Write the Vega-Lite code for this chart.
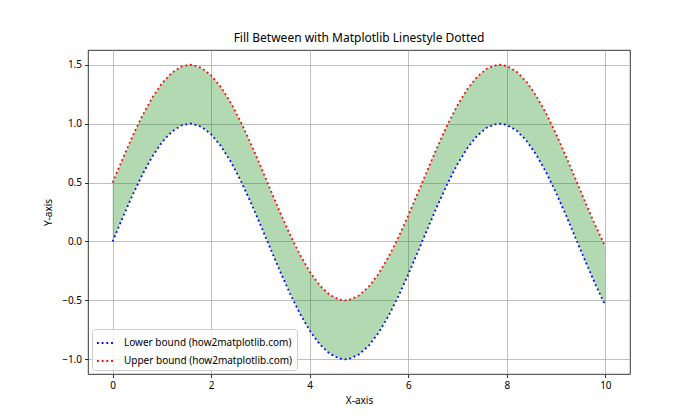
{
  "$schema": "https://vega.github.io/schema/vega-lite/v6.json",
  "width": 542,
  "height": 324,
  "autosize": {"type": "none"},
  "padding": {"left": 88, "top": 50, "right": 70, "bottom": 46},
  "background": "white",
  "config": {
    "font": "Noto Sans",
    "view": {"stroke": "#000000", "strokeWidth": 0.8},
    "axis": {
      "grid": true,
      "gridColor": "#b0b0b0",
      "gridWidth": 0.8,
      "domain": false,
      "tickColor": "#000000",
      "tickWidth": 0.8,
      "tickSize": 3.5,
      "labelPadding": 3,
      "labelFontSize": 10,
      "labelColor": "#000000",
      "titleFontSize": 10,
      "titleFontWeight": "normal",
      "titleColor": "#000000"
    },
    "legend": {
      "orient": "bottom-left",
      "offset": 4,
      "padding": 4,
      "fillColor": "rgba(255,255,255,0.8)",
      "strokeColor": "#cccccc",
      "cornerRadius": 3,
      "symbolType": "stroke",
      "symbolSize": 324,
      "symbolStrokeWidth": 1.8,
      "symbolDash": [1.8, 2.9],
      "labelFontSize": 10,
      "labelColor": "#000000",
      "labelOffset": 8,
      "rowPadding": 3,
      "labelLimit": 300
    }
  },
  "title": {
    "text": "Fill Between with Matplotlib Linestyle Dotted",
    "fontSize": 12,
    "fontWeight": "normal",
    "color": "#000000",
    "anchor": "middle",
    "offset": 5
  },
  "data": {
    "values": [
      {"x": 0.0, "lo": 0.0, "hi": 0.5},
      {"x": 0.2, "lo": 0.1987, "hi": 0.6987},
      {"x": 0.4, "lo": 0.3894, "hi": 0.8894},
      {"x": 0.6, "lo": 0.5646, "hi": 1.0646},
      {"x": 0.8, "lo": 0.7174, "hi": 1.2174},
      {"x": 1.0, "lo": 0.8415, "hi": 1.3415},
      {"x": 1.2, "lo": 0.932, "hi": 1.432},
      {"x": 1.4, "lo": 0.9854, "hi": 1.4854},
      {"x": 1.5708, "lo": 1.0, "hi": 1.5},
      {"x": 1.6, "lo": 0.9996, "hi": 1.4996},
      {"x": 1.8, "lo": 0.9738, "hi": 1.4738},
      {"x": 2.0, "lo": 0.9093, "hi": 1.4093},
      {"x": 2.2, "lo": 0.8085, "hi": 1.3085},
      {"x": 2.4, "lo": 0.6755, "hi": 1.1755},
      {"x": 2.6, "lo": 0.5155, "hi": 1.0155},
      {"x": 2.8, "lo": 0.335, "hi": 0.835},
      {"x": 3.0, "lo": 0.1411, "hi": 0.6411},
      {"x": 3.2, "lo": -0.0584, "hi": 0.4416},
      {"x": 3.4, "lo": -0.2555, "hi": 0.2445},
      {"x": 3.6, "lo": -0.4425, "hi": 0.0575},
      {"x": 3.8, "lo": -0.6119, "hi": -0.1119},
      {"x": 4.0, "lo": -0.7568, "hi": -0.2568},
      {"x": 4.2, "lo": -0.8716, "hi": -0.3716},
      {"x": 4.4, "lo": -0.9516, "hi": -0.4516},
      {"x": 4.6, "lo": -0.9937, "hi": -0.4937},
      {"x": 4.7124, "lo": -1.0, "hi": -0.5},
      {"x": 4.8, "lo": -0.9962, "hi": -0.4962},
      {"x": 5.0, "lo": -0.9589, "hi": -0.4589},
      {"x": 5.2, "lo": -0.8835, "hi": -0.3835},
      {"x": 5.4, "lo": -0.7728, "hi": -0.2728},
      {"x": 5.6, "lo": -0.6313, "hi": -0.1313},
      {"x": 5.8, "lo": -0.4646, "hi": 0.0354},
      {"x": 6.0, "lo": -0.2794, "hi": 0.2206},
      {"x": 6.2, "lo": -0.0831, "hi": 0.4169},
      {"x": 6.4, "lo": 0.1165, "hi": 0.6165},
      {"x": 6.6, "lo": 0.3115, "hi": 0.8115},
      {"x": 6.8, "lo": 0.4941, "hi": 0.9941},
      {"x": 7.0, "lo": 0.657, "hi": 1.157},
      {"x": 7.2, "lo": 0.7937, "hi": 1.2937},
      {"x": 7.4, "lo": 0.8987, "hi": 1.3987},
      {"x": 7.6, "lo": 0.9679, "hi": 1.4679},
      {"x": 7.8, "lo": 0.9985, "hi": 1.4985},
      {"x": 7.854, "lo": 1.0, "hi": 1.5},
      {"x": 8.0, "lo": 0.9894, "hi": 1.4894},
      {"x": 8.2, "lo": 0.9407, "hi": 1.4407},
      {"x": 8.4, "lo": 0.8546, "hi": 1.3546},
      {"x": 8.6, "lo": 0.7344, "hi": 1.2344},
      {"x": 8.8, "lo": 0.5849, "hi": 1.0849},
      {"x": 9.0, "lo": 0.4121, "hi": 0.9121},
      {"x": 9.2, "lo": 0.2229, "hi": 0.7229},
      {"x": 9.4, "lo": 0.0248, "hi": 0.5248},
      {"x": 9.6, "lo": -0.1743, "hi": 0.3257},
      {"x": 9.8, "lo": -0.3665, "hi": 0.1335},
      {"x": 10.0, "lo": -0.544, "hi": -0.044}
    ]
  },
  "encoding": {
    "x": {
      "field": "x",
      "type": "quantitative",
      "scale": {"domain": [-0.5, 10.5], "nice": false, "zero": false},
      "axis": {"values": [0, 2, 4, 6, 8, 10], "title": "X-axis", "titlePadding": 5}
    }
  },
  "layer": [
    {
      "mark": {"type": "area", "color": "green", "opacity": 0.3},
      "encoding": {
        "y": {
          "field": "lo",
          "type": "quantitative",
          "scale": {"domain": [-1.125, 1.625], "nice": false, "zero": false},
          "axis": {"values": [-1, -0.5, 0, 0.5, 1, 1.5], "format": ".1f", "title": "Y-axis", "titlePadding": 8}
        },
        "y2": {"field": "hi"}
      }
    },
    {
      "mark": {"type": "line", "strokeWidth": 1.8, "strokeDash": [1.8, 2.9]},
      "encoding": {
        "y": {"field": "lo", "type": "quantitative"},
        "color": {
          "datum": "Lower bound (how2matplotlib.com)",
          "type": "nominal",
          "scale": {
            "domain": ["Lower bound (how2matplotlib.com)", "Upper bound (how2matplotlib.com)"],
            "range": ["#0000ff", "#ff0000"]
          },
          "legend": {"title": null}
        }
      }
    },
    {
      "mark": {"type": "line", "strokeWidth": 1.8, "strokeDash": [1.8, 2.9]},
      "encoding": {
        "y": {"field": "hi", "type": "quantitative"},
        "color": {"datum": "Upper bound (how2matplotlib.com)", "type": "nominal"}
      }
    }
  ],
  "resolve": {"scale": {"color": "shared"}}
}
